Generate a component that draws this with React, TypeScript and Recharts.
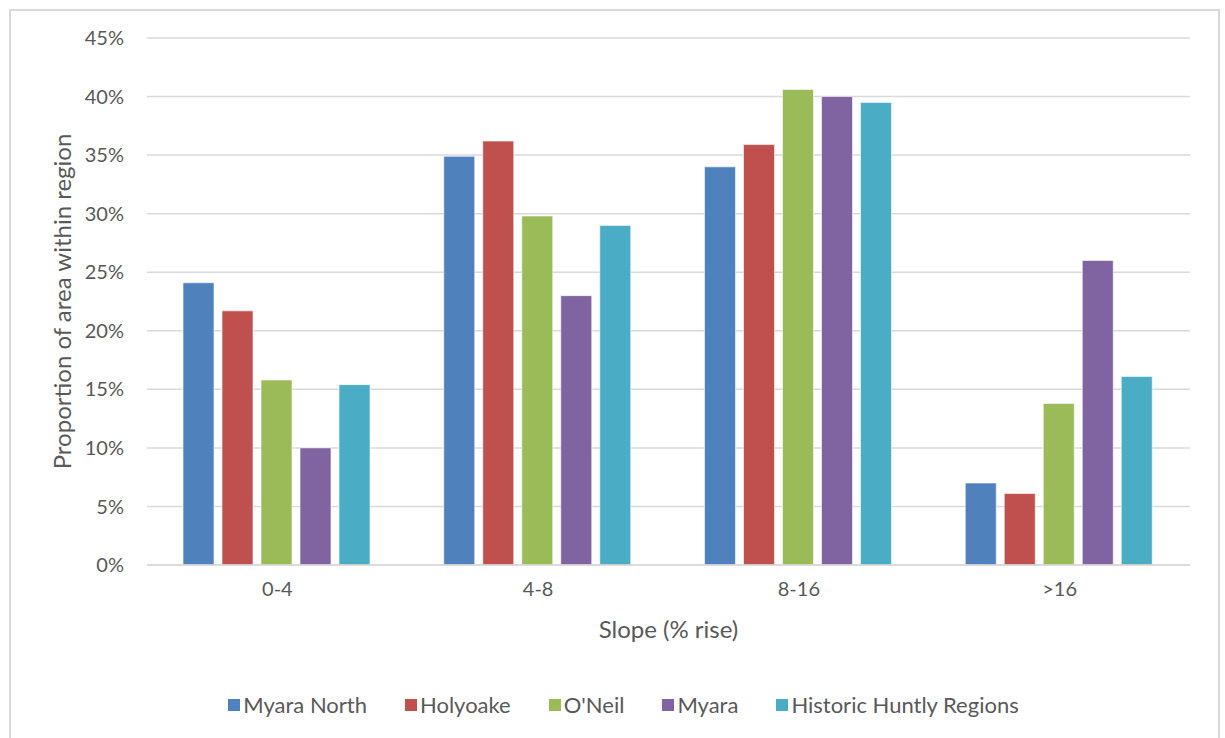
import React from "react";
import { BarChart, Bar, XAxis, YAxis, CartesianGrid, Legend } from "recharts";

const categories = ["0-4", "4-8", "8-16", ">16"];
const myaraNorth = [24.1, 34.9, 34.0, 7.0];
const holyoake = [21.7, 36.2, 35.9, 6.1];
const oNeil = [15.8, 29.8, 40.6, 13.8];
const myara = [10.0, 23.0, 40.0, 26.0];
const historicHuntly = [15.4, 29.0, 39.5, 16.1];
const yTicks = [0, 5, 10, 15, 20, 25, 30, 35, 40, 45];

const series = [
  { key: "myaraNorth", name: "Myara North", color: "#4F81BD", values: myaraNorth },
  { key: "holyoake", name: "Holyoake", color: "#C0504D", values: holyoake },
  { key: "oNeil", name: "O'Neil", color: "#9BBB59", values: oNeil },
  { key: "myara", name: "Myara", color: "#8064A2", values: myara },
  { key: "historic", name: "Historic Huntly Regions", color: "#4BACC6", values: historicHuntly },
];

const data = categories.map((cat, i) => {
  const row: Record<string, string | number> = { category: cat };
  series.forEach((s) => {
    row[s.key] = s.values[i];
  });
  return row;
});

const FONT = "Lato, 'Open Sans', sans-serif";
const TEXT = "#595959";

const LegendContent = () => (
  <div
    style={{
      display: "flex",
      justifyContent: "center",
      gap: 38,
      fontFamily: FONT,
      fontSize: 22,
      color: TEXT,
      paddingLeft: 22,
    }}
  >
    {series.map((s) => (
      <div key={s.key} style={{ display: "flex", alignItems: "center" }}>
        <span
          style={{
            width: 12,
            height: 12,
            background: s.color,
            marginRight: 3,
            display: "inline-block",
          }}
        />
        <span>{s.name}</span>
      </div>
    ))}
  </div>
);

export default function App() {
  return (
    <div style={{ position: "absolute", left: 0, top: 0, width: 1225, height: 738, background: "#fff" }}>
      <div
        style={{
          position: "absolute",
          left: 9,
          top: 9,
          width: 1211,
          height: 740,
          border: "2px solid #d9d9d9",
          boxSizing: "border-box",
        }}
      />
      <BarChart
        width={1225}
        height={738}
        data={data}
        margin={{ top: 38, right: 35, bottom: 13, left: 20 }}
        barCategoryGap={36}
        barGap={8}
        style={{ fontFamily: FONT }}
      >
        <CartesianGrid vertical={false} stroke="#d9d9d9" strokeWidth={1.5} />
        <XAxis
          dataKey="category"
          height={130}
          axisLine={{ stroke: "#d9d9d9", strokeWidth: 1.5 }}
          tickLine={false}
          tickSize={0}
          tickMargin={17}
          tick={{ fill: TEXT, fontSize: 20, fontFamily: FONT }}
          label={{
            value: "Slope (% rise)",
            position: "insideTop",
            offset: 56,
            style: { fill: TEXT, fontSize: 24, fontFamily: FONT },
          }}
        />
        <YAxis
          width={127}
          domain={[0, 45]}
          ticks={yTicks}
          interval={0}
          axisLine={false}
          tickLine={false}
          tickSize={0}
          tickMargin={23}
          tickFormatter={(v: number) => `${v}%`}
          tick={{ fill: TEXT, fontSize: 20, fontFamily: FONT }}
          label={{
            value: "Proportion of area within region",
            angle: -90,
            position: "insideLeft",
            offset: 42,
            style: { fill: TEXT, fontSize: 24, fontFamily: FONT, textAnchor: "middle" },
          }}
        />
        <Legend
          verticalAlign="bottom"
          height={30}
          content={<LegendContent />}
          wrapperStyle={{ top: 691, left: 0, width: 1225 }}
        />
        {series.map((s) => (
          <Bar
            key={s.key}
            dataKey={s.key}
            name={s.name}
            fill={s.color}
            stroke="#ffffff"
            strokeWidth={0.6}
            isAnimationActive={false}
          />
        ))}
      </BarChart>
    </div>
  );
}
